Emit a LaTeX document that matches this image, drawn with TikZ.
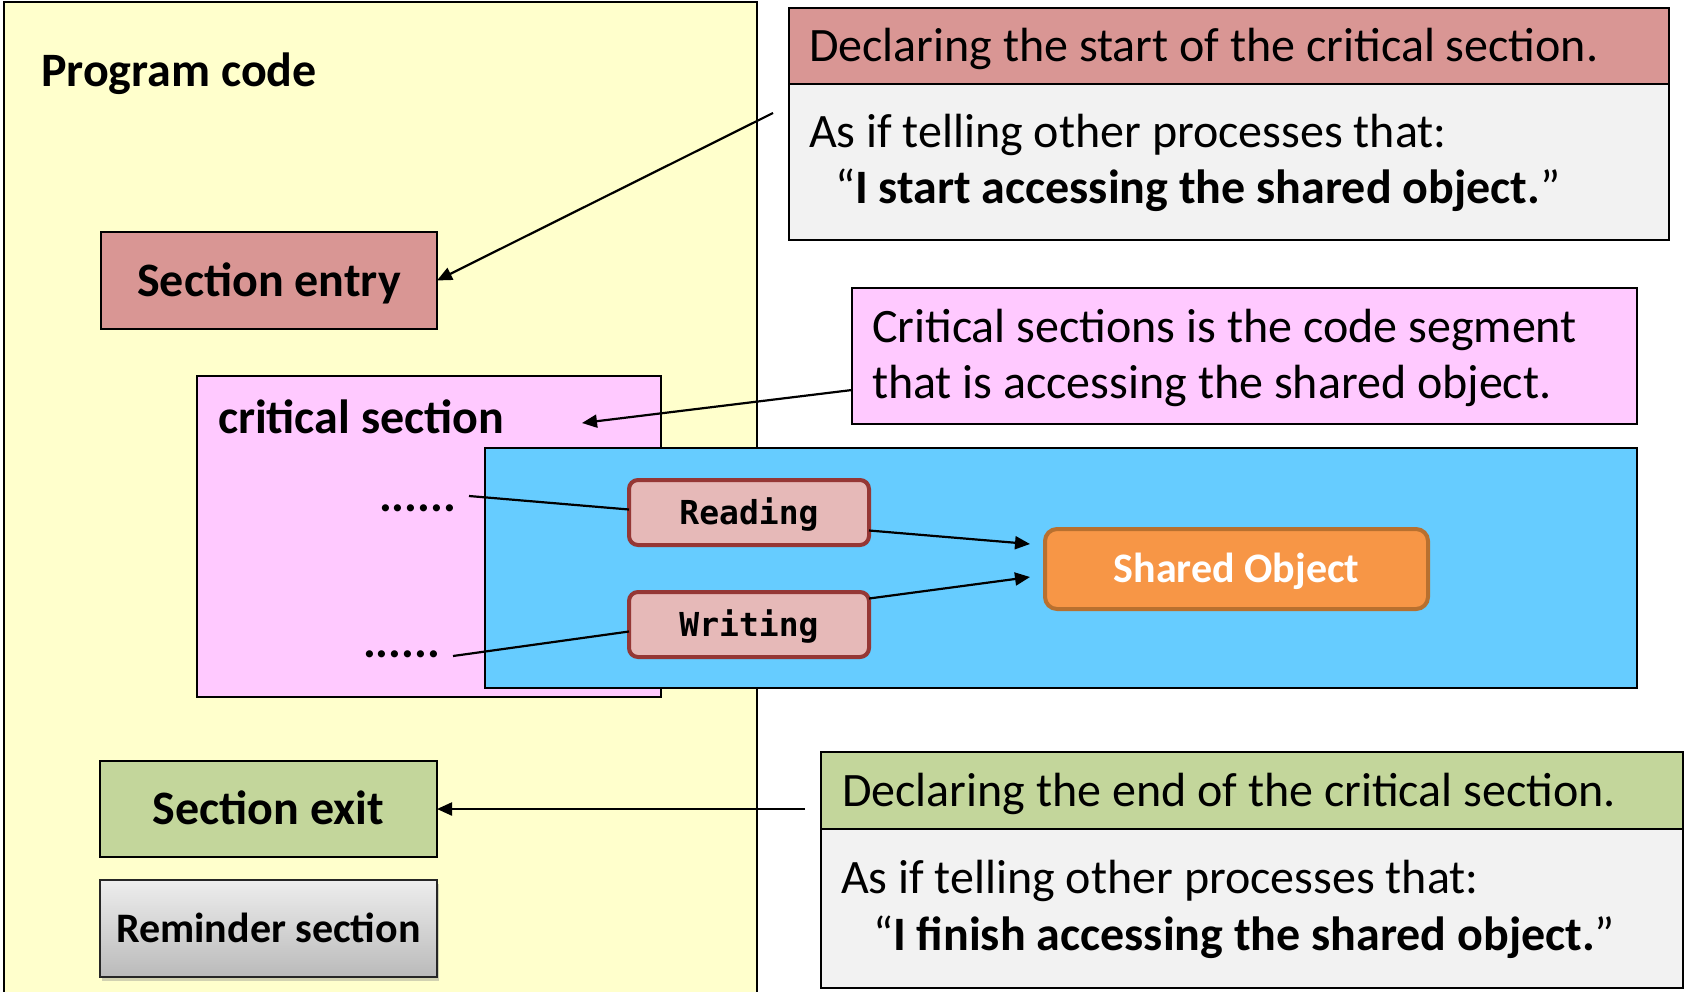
\documentclass[tikz,border=0pt]{standalone}
\usepackage{fontspec}
\setmainfont{Carlito}
\setmonofont{DejaVu Sans Mono}
\usetikzlibrary{arrows.meta,shadows}

\definecolor{codeyellow}{HTML}{FFFFCC}
\definecolor{entryred}{HTML}{D99694}
\definecolor{exitgreen}{HTML}{C3D69B}
\definecolor{critpink}{HTML}{FFC9FF}
\definecolor{objblue}{HTML}{66CCFF}
\definecolor{opfill}{HTML}{E6B9B8}
\definecolor{opline}{HTML}{953735}
\definecolor{sharedfill}{HTML}{F79646}
\definecolor{sharedline}{HTML}{B8702F}
\definecolor{notegray}{HTML}{F2F2F2}

\newcommand\bigbold{\fontsize{48}{58}\selectfont\bfseries}
\newcommand\bigreg{\fontsize{48}{58}\selectfont}
\newcommand\midbold{\fontsize{42}{50}\selectfont\bfseries}
\newcommand\opfont{\fontsize{33}{40}\selectfont\ttfamily\bfseries}

\begin{document}
\begin{tikzpicture}[x=1pt,y=-1pt,
  frame/.style={draw=black,line width=2pt,inner sep=0pt,outer sep=0pt},
  caplbl/.style={font=\bigbold,text height=31pt,text depth=0pt},
  txt/.style={anchor=base west,inner sep=0pt,outer sep=0pt,font=\bigreg},
  boldtxt/.style={txt,font=\bigbold},
  opbox/.style={draw=opline,line width=4pt,fill=opfill,rounded corners=9pt,
    minimum width=240pt,minimum height=65pt,inner sep=0pt,outer sep=0pt,
    font=\opfont,text height=24pt,text depth=0pt},
  conn/.style={line width=2.2pt},
  arr/.style={conn,-{Triangle[length=15pt,width=13pt]}},
]
\clip (0,0) rectangle (1685,991);

% program code area
\draw[line width=2pt,fill=codeyellow] (4,2) rectangle (757,1010);
\node[boldtxt] (progtxt) at (41,86) {Program code};

% sections of the program
\node[frame,fill=entryred,minimum width=336pt,minimum height=97pt,caplbl]
  (entry) at (269,280.5) {Section entry};
\node[frame,fill=exitgreen,minimum width=337pt,minimum height=96pt,caplbl]
  (exit) at (268.5,809) {Section exit};
\node[frame,draw=black!85,top color=black!7,bottom color=black!27,
  minimum width=337pt,minimum height=97pt,font=\midbold,text height=27pt,text depth=0pt,
  drop shadow={shadow xshift=2pt,shadow yshift=-4pt,opacity=0.35}]
  (remind) at (268.5,928.5) {Reminder section};

% critical section
\node[frame,fill=critpink,minimum width=464pt,minimum height=321pt] (crit) at (429,536.5) {};
\node[boldtxt] (crittxt) at (218,433) {critical section};

% shared object area
\node[frame,fill=objblue,minimum width=1152pt,minimum height=240pt] (objarea) at (1061,568) {};

\node[boldtxt] (dotsA) at (379,511) {......};
\node[boldtxt] (dotsB) at (363,657) {......};

\node[opbox] (read) at (749,512.5) {Reading};
\node[opbox] (write) at (749,624.5) {Writing};

\node[draw=sharedline,line width=4pt,fill=sharedfill,rounded corners=12pt,
  minimum width=383pt,minimum height=80pt,inner sep=0pt,outer sep=0pt,
  text=white,font=\midbold,text height=27pt,text depth=0pt]
  (shared) at (1236.5,569) {Shared Object};

% note about the section entry
\node[frame,fill=notegray,minimum width=880pt,minimum height=156pt] (startbody) at (1229,162) {};
\node[frame,fill=entryred,minimum width=880pt,minimum height=76pt] (starthead) at (1229,46) {};
\node[txt] (starthtxt) at (809,61) {Declaring the start of the critical section.};
\node[txt] (startl1) at (809,147) {As if telling other processes that:};
\node[txt] (startl2) at (835,203) {“\textbf{I start accessing the shared object.}”};

% note about the critical section
\node[frame,fill=critpink,minimum width=785pt,minimum height=136pt] (critnote) at (1244.5,356) {};
\node[txt] (critl1) at (872,342) {Critical sections is the code segment};
\node[txt] (critl2) at (872,398) {that is accessing the shared object.};

% note about the section exit
\node[frame,fill=notegray,minimum width=862pt,minimum height=159pt] (endbody) at (1252,908.5) {};
\node[frame,fill=exitgreen,minimum width=862pt,minimum height=77pt] (endhead) at (1252,790.5) {};
\node[txt] (endhtxt) at (842,806) {Declaring the end of the critical section.};
\node[txt] (endl1) at (841,893) {As if telling other processes that:};
\node[txt] (endl2) at (873,950) {“\textbf{I finish accessing the shared object.}”};

% free ends of the connectors
\coordinate (startfrom) at (773,113);
\coordinate (endfrom) at (805,809);
\coordinate (critfrom) at (852,390);
\coordinate (critto) at (582,423);
\coordinate (dotsAend) at (469,496);
\coordinate (dotsBend) at (453,656);

% connectors
\draw[arr] (startfrom) -- (entry.east);
\draw[arr] (endfrom) -- (exit.east);
\draw[arr] (critfrom) -- (critto);
\draw[conn] (dotsAend) -- ([yshift=3pt]read.west);
\draw[conn] (dotsBend) -- ([yshift=-7pt]write.west);
\draw[arr] ([yshift=-18pt]read.east) -- ([xshift=-15pt,yshift=25pt]shared.west);
\draw[arr] ([yshift=26pt]write.east) -- ([xshift=-15pt,yshift=-8pt]shared.west);
\end{tikzpicture}
\end{document}
